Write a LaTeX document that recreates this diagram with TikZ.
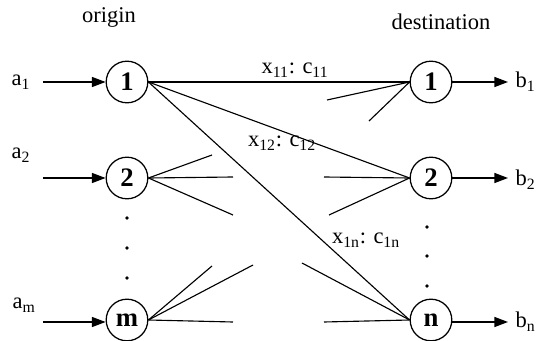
\documentclass[tikz,border=0pt]{standalone}
\usepackage{fontspec}
\setmainfont{Liberation Serif}
\usetikzlibrary{arrows.meta, positioning}
\tikzset{basic/.style={draw,line width=0.9pt,circle,minimum size=1.04cm,inner sep=0pt}}
\tikzset{station/.style={basic,font=\fontsize{19}{22}\selectfont\bfseries}}
\tikzset{feed/.style={draw,line width=0.9pt,-{Triangle[length=3.4mm,width=2.5mm]}}}
\tikzset{link/.style={draw,line width=0.8pt,-}}
\tikzset{dot/.style={circle,fill,inner sep=0pt,minimum size=2.6pt}}

\begin{document}
\begin{tikzpicture}[x=0.025cm,y=-0.025cm,font=\fontsize{16}{19}\selectfont]
\useasboundingbox (0,0) rectangle (541,341);

% Define origin units
\node[station] at (127,82) (o1) {1};
\node[station] at (127,178) (o2) {2};
\node[station] at (127,320) (om) {m};

% Define destination units
\node[station] at (431,82) (d1) {1};
\node[station] at (431,178) (d2) {2};
\node[station] at (431,320) (dn) {n};

% Define supply and demand ends
\coordinate (a1in) at (43,82);
\coordinate (a2in) at (43,178);
\coordinate (amin) at (43,322);
\coordinate (b1out) at (508,82);
\coordinate (b2out) at (508,178);
\coordinate (bnout) at (508,322);

% Define loose ends
\coordinate (s21) at (212,155);
\coordinate (s22) at (233,177);
\coordinate (s23) at (233,215);
\coordinate (sm1) at (212,266);
\coordinate (sm2) at (253,265);
\coordinate (sm3) at (233,322);
\coordinate (t11) at (327,100);
\coordinate (t12) at (369,121);
\coordinate (t21) at (324,177);
\coordinate (t22) at (329,215);
\coordinate (tn1) at (302,263);
\coordinate (tn2) at (324,322);

% Define paths
\path[feed] (a1in) -- (o1.west);
\path[feed] (a2in) -- (o2.west);
\path[feed] (amin) -- (om.west |- amin);
\path[feed] (d1.east) -- (b1out);
\path[feed] (d2.east) -- (b2out);
\path[feed] (dn.east |- bnout) -- (bnout);

\path[link] (o1.east) -- (d1.west);
\path[link] (o1.east) -- (d2.west);
\path[link] (o1.east) -- (dn.west);

\path[link] (o2.east) -- (s21);
\path[link] (o2.east) -- (s22);
\path[link] (o2.east) -- (s23);

\path[link] (om.east) -- (sm1);
\path[link] (om.east) -- (sm2);
\path[link] (om.east) -- (sm3);

\path[link] (t11) -- (d1.west);
\path[link] (t12) -- (d1.west);
\path[link] (t21) -- (d2.west);
\path[link] (t22) -- (d2.west);
\path[link] (tn1) -- (dn.west);
\path[link] (tn2) -- (dn.west);

% Add dots
\node[dot] at (127,218) {};
\node[dot] at (127,248) {};
\node[dot] at (127,278) {};
\node[dot] at (427,227) {};
\node[dot] at (427,256) {};
\node[dot] at (427,286) {};

% Add some text
\node at (109,17) (orig) {origin};
\node at (441,22) (dest) {destination};
\node at (21,82) (a1) {a\textsubscript{1}};
\node at (21,155) (a2) {a\textsubscript{2}};
\node at (24,305) (am) {a\textsubscript{m}};
\node[anchor=west,inner sep=1pt] at (514,82) (b1) {b\textsubscript{1}};
\node[anchor=west,inner sep=1pt] at (514,180) (b2) {b\textsubscript{2}};
\node[anchor=west,inner sep=1pt] at (514,322) (bn) {b\textsubscript{n}};
\node at (295,70) (lab11) {x\textsubscript{11}: c\textsubscript{11}};
\node at (282,143) (lab12) {x\textsubscript{12}: c\textsubscript{12}};
\node at (366,240) (lab1n) {x\textsubscript{1n}: c\textsubscript{1n}};
\end{tikzpicture}
\end{document}
